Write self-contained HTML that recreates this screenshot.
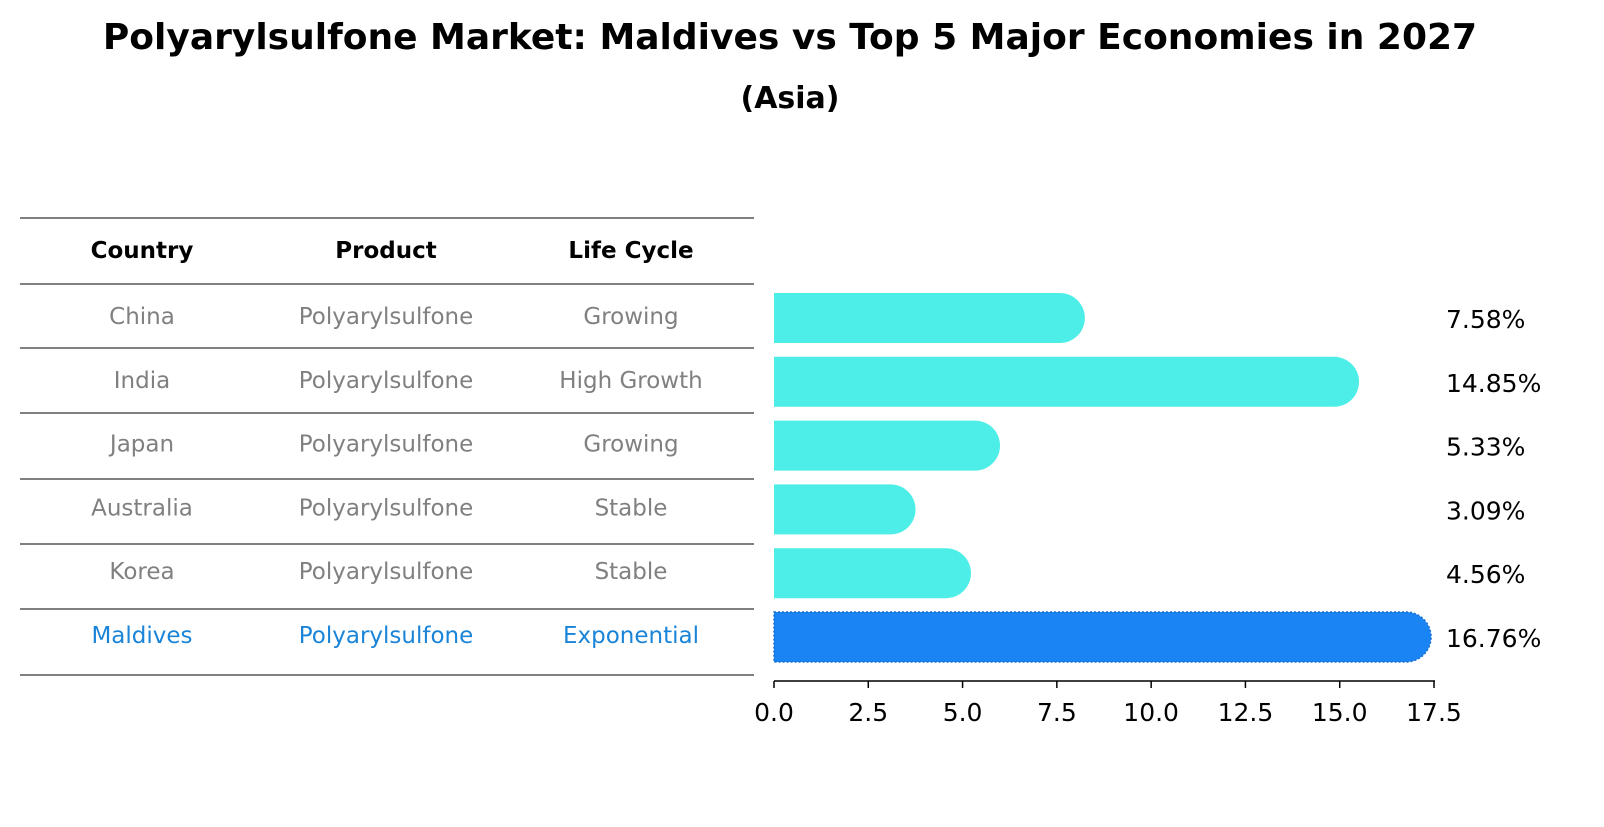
<!DOCTYPE html>
<html><head><meta charset="utf-8"><style>
body{margin:0;background:#fff;font-family:"DejaVu Sans","Liberation Sans",sans-serif;}
</style></head><body>
<svg width="1604" height="823" xmlns="http://www.w3.org/2000/svg" font-family="DejaVu Sans, Liberation Sans, sans-serif">
<text x="790" y="49" text-anchor="middle" font-size="36" font-weight="bold">Polyarylsulfone Market: Maldives vs Top 5 Major Economies in 2027</text>
<text x="790" y="108" text-anchor="middle" font-size="30" font-weight="bold">(Asia)</text>
<g id="table"></g>
<g id="bars"></g>
<g id="axis"></g>
</svg>
<script>
const countries=["China","India","Japan","Australia","Korea","Maldives"];
const products=["Polyarylsulfone","Polyarylsulfone","Polyarylsulfone","Polyarylsulfone","Polyarylsulfone","Polyarylsulfone"];
const lifeCycles=["Growing","High Growth","Growing","Stable","Stable","Exponential"];
const values=[7.58,14.85,5.33,3.09,4.56,16.76];
const ticks=[0,2.5,5,7.5,10,12.5,15,17.5];
const NS="http://www.w3.org/2000/svg";
const x0=774,x1=1434,xmax=17.5;
const xs=v=>x0+v/xmax*(x1-x0);
const rowY=i=>318+i*63.8;
function mk(tag,attrs,parent){const e=document.createElementNS(NS,tag);for(const k in attrs)e.setAttribute(k,attrs[k]);parent.appendChild(e);return e;}
const table=document.getElementById('table');
const lines=[218,284,348,413,479,544,609,675];
lines.forEach((y,i)=>{const l=mk('line',{x1:20,x2:754,y1:y,y2:y,stroke:'#000','stroke-width':1},table);

});
const cols=[142,386,631];
["Country","Product","Life Cycle"].forEach((h,j)=>{const t=mk('text',{x:cols[j],y:258,'text-anchor':'middle','font-size':23,'font-weight':'bold'},table);t.textContent=h;

});
countries.forEach((c,i)=>{const col=i===5?'#1a84d8':'#808080';const y=rowY(i)+6;
[c,products[i],lifeCycles[i]].forEach((s,j)=>{const t=mk('text',{x:cols[j],y:y,'text-anchor':'middle','font-size':23,fill:col},table);t.textContent=s;

});});
const bars=document.getElementById('bars');
values.forEach((v,i)=>{const cy=rowY(i),h=50,r=25,xe=xs(v);const col=i===5?'#1a84f5':'#4deee8';
const p=mk('path',{d:`M${x0} ${cy-h/2} H${xe} A${r} ${r} 0 0 1 ${xe} ${cy+h/2} H${x0} Z`,fill:col},bars);
if(i===5){p.setAttribute('stroke','#1a70d0');p.setAttribute('stroke-dasharray','2 2');p.setAttribute('stroke-width','1.5');}


const t=mk('text',{x:1446,y:cy+10,'font-size':25},bars);t.textContent=v.toFixed(2)+'%';

});
const axis=document.getElementById('axis');
mk('line',{x1:x0,x2:x1+1,y1:681,y2:681,stroke:'#000','stroke-width':1.5},axis);
ticks.forEach(t=>{const x=xs(t);mk('line',{x1:x,x2:x,y1:681,y2:688,stroke:'#000','stroke-width':1.5},axis);
const tx=mk('text',{x:x,y:721,'text-anchor':'middle','font-size':25},axis);tx.textContent=t.toFixed(1);

});
</script>
</body></html>
